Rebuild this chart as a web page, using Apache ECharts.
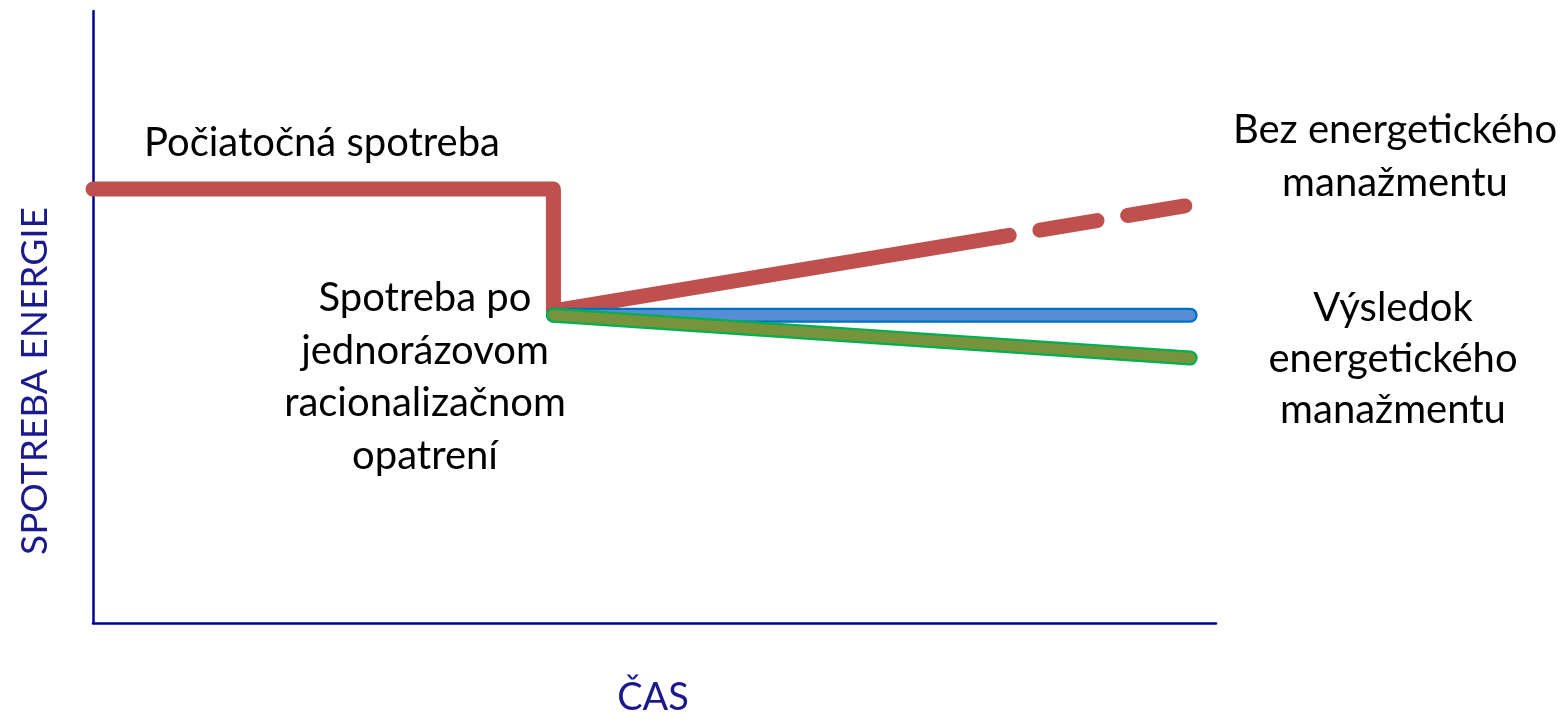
<!DOCTYPE html>
<html>
<head>
<meta charset="utf-8">
<script src="https://cdn.jsdelivr.net/npm/echarts@6/dist/echarts.min.js"></script>
<style>html,body{margin:0;padding:0;background:#fff}#c{width:1565px;height:719px}</style>
</head>
<body>
<div id="c"></div>
<script>
// Data (time units 0..100, consumption units 0..100)
const redSolid = [[0, 70.9], [41, 70.9], [41, 51.0], [80.8, 63.1]];
const redDashed = [[80.8, 63.1], [97.7, 68.3]];
const blueLine = [[41, 50.3], [97.7, 50.3]];
const greenLine = [[41, 50.3], [97.7, 43.3]];
const xAxisName = 'ČAS';
const yAxisName = 'SPOTREBA ENERGIE';
const labelInitial = 'Počiatočná spotreba';
const labelWithout = ['Bez energetického', 'manažmentu'];
const labelAfter = ['Spotreba po', 'jednorázovom', 'racionalizačnom', 'opatrení'];
const labelResult = ['Výsledok', 'energetického', 'manažmentu'];

const FONT = 'Lato, "Open Sans", sans-serif';
const navy = '#1a1a8e';
const chart = echarts.init(document.getElementById('c'));

function lineSeries(data, color, width, extra) {
  return {
    type: 'line', data: data, symbol: 'none', silent: true, animation: false,
    lineStyle: Object.assign({ color: color, width: width, cap: 'round', join: 'round' }, extra || {})
  };
}

chart.setOption({
  animation: false,
  grid: { left: 93, top: 11, width: 1123, height: 612 },
  xAxis: {
    type: 'value', min: 0, max: 100,
    axisLine: { show: true, onZero: false, lineStyle: { color: '#000090', width: 2.5 } },
    axisTick: { show: false }, axisLabel: { show: false }, splitLine: { show: false }
  },
  yAxis: {
    type: 'value', min: 0, max: 100,
    axisLine: { show: true, onZero: false, lineStyle: { color: '#000090', width: 2.5 } },
    axisTick: { show: false }, axisLabel: { show: false }, splitLine: { show: false }
  },
  series: [
    lineSeries(redSolid, '#C0504D', 15),
    lineSeries(redDashed, '#C0504D', 15, { type: [58, 31], dashOffset: 49 }),
    lineSeries(blueLine, '#0070C0', 15),
    lineSeries(blueLine, '#558ED5', 10.5),
    lineSeries(greenLine, '#00B050', 15),
    lineSeries(greenLine, '#77933C', 10.5)
  ],
  graphic: [
    {
      type: 'text', x: 322, y: 143, silent: true,
      style: { text: labelInitial, fill: '#000', font: '40px ' + FONT, align: 'center', verticalAlign: 'middle' }
    },
    {
      type: 'text', x: 1395, y: 157, silent: true,
      style: { text: labelWithout.join('\n'), fill: '#000', font: '40px ' + FONT, align: 'center', verticalAlign: 'middle', lineHeight: 53 }
    },
    {
      type: 'text', x: 425, y: 377, silent: true,
      style: { text: labelAfter.join('\n'), fill: '#000', font: '40px ' + FONT, align: 'center', verticalAlign: 'middle', lineHeight: 52.5 }
    },
    {
      type: 'text', x: 1393, y: 359, silent: true,
      style: { text: labelResult.join('\n'), fill: '#000', font: '40px ' + FONT, align: 'center', verticalAlign: 'middle', lineHeight: 51 }
    },
    {
      type: 'text', x: 653, y: 698, silent: true,
      style: { text: xAxisName, fill: navy, font: '38px ' + FONT, align: 'center', verticalAlign: 'middle' }
    },
    {
      type: 'text', x: 35, y: 381, rotation: Math.PI / 2, silent: true,
      style: { text: yAxisName, fill: navy, font: '37px ' + FONT, align: 'center', verticalAlign: 'middle' }
    }
  ]
});
</script>
</body>
</html>
